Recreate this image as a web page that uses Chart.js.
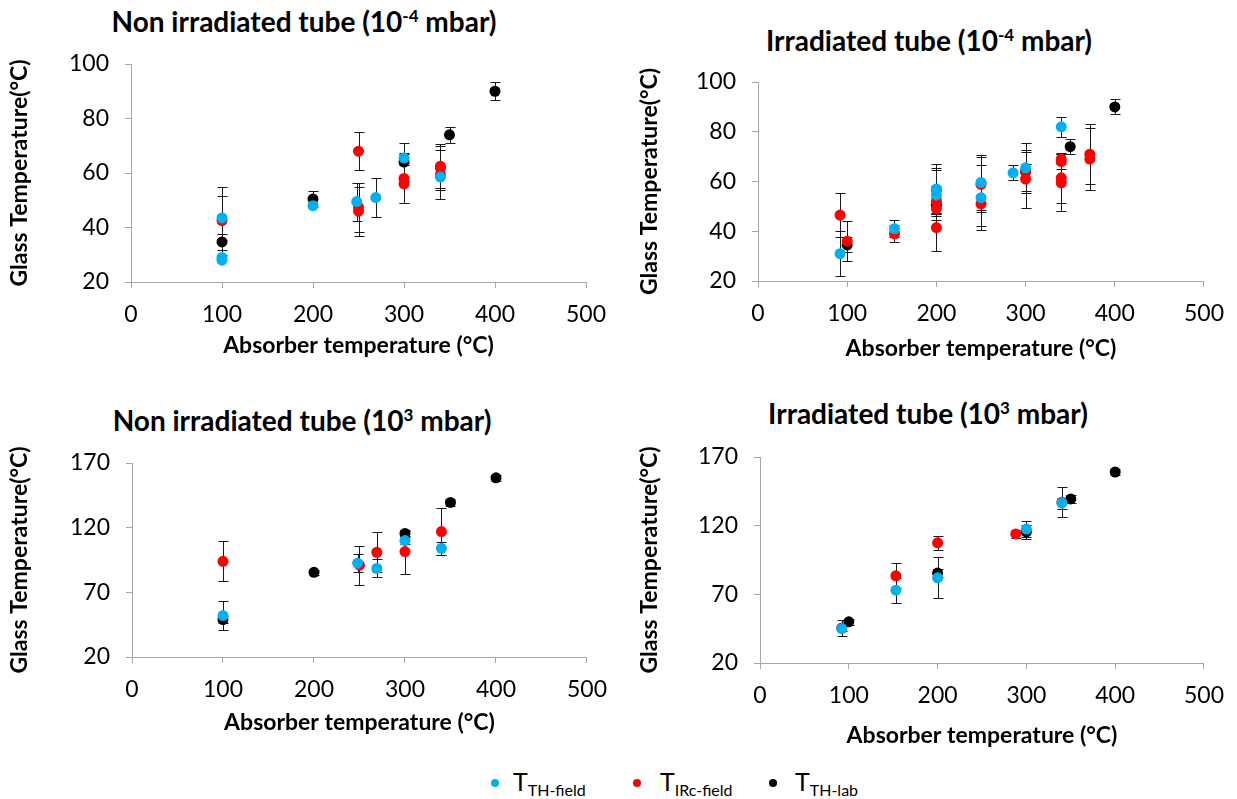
<!DOCTYPE html>
<html>
<head>
<meta charset="utf-8">
<script src="https://cdn.jsdelivr.net/npm/chart.js@4.4.0/dist/chart.umd.min.js"></script>
<style>
  body { margin: 0; background: #fff; width: 1237px; height: 799px; position: relative; overflow: hidden; font-family: Lato, "Open Sans", sans-serif; }
  canvas { position: absolute; }
  .ttl { position: absolute; font-weight: bold; font-size: 28px; color: #000; white-space: nowrap; transform: translate(-50%, -50%); }
  .ttl sup { font-size: 17px; }
  .leg { position: absolute; font-size: 25px; color: #000; white-space: nowrap; }
  .leg sub { font-size: 16px; vertical-align: -5px; }
  .dot { position: absolute; width: 8px; height: 8px; border-radius: 50%; }
</style>
</head>
<body>
<div class="ttl" style="left:304px;top:21px">Non irradiated tube (10<sup>-4</sup> mbar)</div>
<div class="ttl" style="left:929px;top:40px">Irradiated tube (10<sup>-4</sup> mbar)</div>
<div class="ttl" style="left:302px;top:420px">Non irradiated tube (10<sup>3</sup> mbar)</div>
<div class="ttl" style="left:928px;top:413px">Irradiated tube (10<sup>3</sup> mbar)</div>

<canvas id="c1" width="620" height="380" style="left:0;top:0"></canvas>
<canvas id="c2" width="617" height="380" style="left:620px;top:0"></canvas>
<canvas id="c3" width="620" height="380" style="left:0;top:380px"></canvas>
<canvas id="c4" width="617" height="380" style="left:620px;top:380px"></canvas>

<div class="dot" style="left:491px;top:779px;background:#00b0f0"></div>
<div class="leg" style="left:513px;top:766px">T<sub>TH-field</sub></div>
<div class="dot" style="left:633px;top:779px;background:#ff0000"></div>
<div class="leg" style="left:660px;top:766px">T<sub>IRc-field</sub></div>
<div class="dot" style="left:769px;top:779px;background:#000000"></div>
<div class="leg" style="left:795px;top:766px">T<sub>TH-lab</sub></div>

<script>
// each point: [absorber temperature, glass temperature, error]
var nonIrrVacField = [[100, 43.5, 8], [100, 29, 0], [100, 28, 0], [200, 48, 0], [248, 49.5, 7], [269, 51, 7], [300, 65.5, 2], [340, 58.5, 4]];
var nonIrrVacIRc = [[100, 42.5, 12.5], [250, 68, 7], [250, 47.5, 9], [250, 46, 9], [300, 58, 9], [300, 56, 7], [340, 62.5, 8], [340, 61.8, 8], [340, 59.5, 9]];
var nonIrrVacLab = [[100, 34.7, 3], [200, 50.5, 3], [300, 64, 7], [350, 74, 3], [400, 90, 3.3]];

var irrVacField = [[92, 31, 9], [153, 41, 3.5], [200, 57, 10], [200, 54.5, 10], [250, 59.6, 11], [250, 53.5, 13], [286, 63.5, 3], [300, 65.5, 10], [340, 82, 4]];
var irrVacIRc = [[92, 46.5, 9], [100, 36, 8], [153, 39, 3.5], [200, 56.5, 9], [200, 52, 6], [200, 49, 2], [200, 41.5, 9.5], [250, 58.8, 11], [250, 51, 9], [300, 64, 8], [300, 61, 11.5], [340, 69, 2], [340, 68, 3], [340, 61.5, 10], [340, 59.5, 11.5], [372, 71, 12], [372, 69, 12.5]];
var irrVacLab = [[100, 34.5, 3], [200, 50.5, 3], [300, 64, 3], [350, 74, 3], [400, 90, 3]];

var nonIrrAtmField = [[100, 52, 11], [248, 92.5, 7], [269, 88.5, 7], [300, 110, 3], [340, 104, 5]];
var nonIrrAtmIRc = [[100, 94, 15.5], [250, 91, 15], [269, 101, 15.5], [300, 101.5, 17], [340, 117, 18.5]];
var nonIrrAtmLab = [[100, 49, 3], [200, 85.5, 2], [300, 115.5, 2], [350, 139.5, 2.5], [400, 158.5, 2.5]];

var irrAtmField = [[92, 45, 2], [153, 73, 9], [200, 82, 15], [300, 117.5, 6], [340, 136.5, 4]];
var irrAtmIRc = [[92, 45.5, 5.5], [153, 83.5, 9], [200, 107.5, 5], [288, 114, 3], [340, 137, 11]];
var irrAtmLab = [[100, 50, 2], [200, 85.5, 3], [300, 115.5, 5], [350, 139.5, 3], [400, 159, 2]];

var xTicks = [0, 100, 200, 300, 400, 500];
var yTicksVac = [20, 40, 60, 80, 100];
var yTicksAtm = [20, 70, 120, 170];

var seriesNames = ['TH-field', 'IRc-field', 'TH-lab'];
var seriesColors = ['#00b0f0', '#ff0000', '#000000'];

const errorBars = {
  id: 'errorBars',
  beforeDatasetsDraw(chart) {
    const ctx = chart.ctx;
    const x = chart.scales.x, y = chart.scales.y;
    ctx.save();
    ctx.strokeStyle = '#1a1a1a';
    ctx.lineWidth = 1;
    chart.data.datasets.forEach(ds => {
      ds.data.forEach(p => {
        if (!p.e) return;
        const px = Math.round(x.getPixelForValue(p.x)) + 0.5;
        const t = Math.round(y.getPixelForValue(p.y + p.e)) + 0.5;
        const b = Math.round(y.getPixelForValue(p.y - p.e)) + 0.5;
        ctx.beginPath();
        ctx.moveTo(px, t); ctx.lineTo(px, b);
        ctx.moveTo(px - 5, t); ctx.lineTo(px + 5, t);
        ctx.moveTo(px - 5, b); ctx.lineTo(px + 5, b);
        ctx.stroke();
      });
    });
    ctx.restore();
  }
};

function toPoints(arr) {
  return arr.map(r => ({ x: r[0], y: r[1], e: r[2] }));
}

function makeChart(id, sets, yTicks, lay) {
  const axisGrey = '#a6a6a6';
  return new Chart(document.getElementById(id), {
    type: 'scatter',
    data: {
      datasets: sets.map((s, i) => ({
        label: seriesNames[i],
        data: toPoints(s),
        backgroundColor: seriesColors[i],
        borderWidth: 0,
        pointRadius: 5.5,
        pointHoverRadius: 5.5
      }))
    },
    options: {
      animation: false,
      responsive: false,
      layout: { padding: { left: 0, top: lay.top, right: lay.right, bottom: 0 } },
      plugins: { legend: { display: false }, tooltip: { enabled: false } },
      scales: {
        x: {
          type: 'linear',
          min: xTicks[0],
          max: xTicks[xTicks.length - 1],
          afterBuildTicks: s => { s.ticks = xTicks.map(v => ({ value: v })); },
          afterFit: s => { s.height = lay.xh; },
          grid: { drawOnChartArea: false, tickLength: 6, color: axisGrey },
          border: { color: axisGrey, width: 1 },
          ticks: { color: '#000', padding: 13, font: { family: 'Lato', size: 23 } },
          title: {
            display: true, text: 'Absorber temperature (°C)', color: '#000',
            font: { family: 'Lato', size: 23, weight: 'bold' },
            padding: { top: 0, bottom: lay.xtp }
          }
        },
        y: {
          min: yTicks[0],
          max: yTicks[yTicks.length - 1],
          afterBuildTicks: s => { s.ticks = yTicks.map(v => ({ value: v })); },
          afterFit: s => { s.width = lay.yw; },
          grid: { drawOnChartArea: false, tickLength: 6, color: axisGrey },
          border: { color: axisGrey, width: 1 },
          ticks: { color: '#000', padding: 16, font: { family: 'Lato', size: 23 } },
          title: {
            display: true, text: 'Glass Temperature(°C)', color: '#000',
            font: { family: 'Lato', size: 23, weight: 'bold' },
            padding: { top: lay.ytp, bottom: 0 }
          }
        }
      }
    },
    plugins: [errorBars]
  });
}

makeChart('c1', [nonIrrVacField, nonIrrVacIRc, nonIrrVacLab], yTicksVac, { top: 64, right: 34, xh: 98, yw: 131, xtp: 21, ytp: 6 });
makeChart('c2', [irrVacField, irrVacIRc, irrVacLab], yTicksVac, { top: 82, right: 27, xh: 99, yw: 138, xtp: 18, ytp: 16 });
makeChart('c3', [nonIrrAtmField, nonIrrAtmIRc, nonIrrAtmLab], yTicksAtm, { top: 83, right: 33, xh: 103, yw: 132, xtp: 24, ytp: 6 });
makeChart('c4', [irrAtmField, irrAtmIRc, irrAtmLab], yTicksAtm, { top: 77, right: 27, xh: 97, yw: 140, xtp: 11, ytp: 16 });
</script>
</body>
</html>
